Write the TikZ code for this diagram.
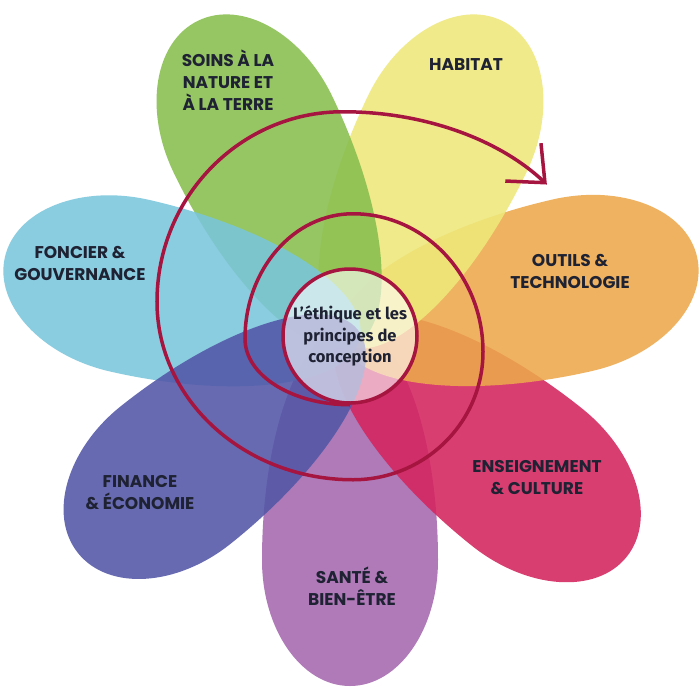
\documentclass[tikz,border=0pt]{standalone}
\usepackage{fontspec}
\setmainfont{Poppins}
\newfontfamily\centrefont{Fira Sans}
\usetikzlibrary{arrows.meta}

\definecolor{santepurple}{RGB}{164,104,174}
\definecolor{culturered}{RGB}{212,36,94}
\definecolor{outilsorange}{RGB}{236,168,76}
\definecolor{habitatyellow}{RGB}{238,232,122}
\definecolor{soinsgreen}{RGB}{136,190,78}
\definecolor{foncierblue}{RGB}{122,198,220}
\definecolor{financeblue}{RGB}{82,86,166}
\definecolor{spiralred}{RGB}{166,20,64}
\definecolor{textdark}{RGB}{30,34,51}

\begin{document}
\begin{tikzpicture}[
            x = 1pt, y = 1pt, % one unit is one pixel of the flower
            > = {Straight Barb[length=30pt, width=52pt]}, % open arrow head
            line join = round,
            spiral/.style = {draw = spiralred, line width = 3.5pt},
            petal/.style = {fill opacity = 0.88}
        ]

        \tikzstyle{petaltext}=[
            text = textdark,
            font = \fontsize{17}{22}\selectfont\bfseries,
            align = center
        ]

        \useasboundingbox[fill=white] (-350,-350) rectangle (350,336);

        % petals, bottom one first
        \fill[petal, santepurple, rotate=-90] (224,88) arc[start angle=90, end angle=-90, x radius=126pt, y radius=88pt] arc[start angle=-90, end angle=-270, x radius=234pt, y radius=88pt] -- cycle;
        \fill[petal, culturered, rotate=-38.57] (226,88) arc[start angle=90, end angle=-90, x radius=128pt, y radius=88pt] arc[start angle=-90, end angle=-270, x radius=236pt, y radius=88pt] -- cycle;
        \fill[petal, outilsorange, rotate=12.86] (228,88) arc[start angle=90, end angle=-90, x radius=128pt, y radius=88pt] arc[start angle=-90, end angle=-270, x radius=238pt, y radius=88pt] -- cycle;
        \fill[petal, habitatyellow, rotate=64.29] (224,88) arc[start angle=90, end angle=-90, x radius=126pt, y radius=88pt] arc[start angle=-90, end angle=-270, x radius=234pt, y radius=88pt] -- cycle;
        \fill[petal, soinsgreen, rotate=115.71] (224,88) arc[start angle=90, end angle=-90, x radius=126pt, y radius=88pt] arc[start angle=-90, end angle=-270, x radius=234pt, y radius=88pt] -- cycle;
        \fill[petal, foncierblue, rotate=167.14] (226,88) arc[start angle=90, end angle=-90, x radius=128pt, y radius=88pt] arc[start angle=-90, end angle=-270, x radius=236pt, y radius=88pt] -- cycle;
        \fill[petal, financeblue, rotate=218.57] (223,88) arc[start angle=90, end angle=-90, x radius=125pt, y radius=88pt] arc[start angle=-90, end angle=-270, x radius=233pt, y radius=88pt] -- cycle;

        \node[circle, draw = spiralred, line width = 3.5pt, fill = white, fill opacity = 0.6, text opacity = 1,
              minimum size = 134pt, inner sep = 0pt, align = center, text = textdark,
              font = \centrefont\bfseries\fontsize{16.5}{21.5}\selectfont] (ethique) at (0,0) {L’éthique et les\\principes de\\conception};

        % spiral going out from the centre, one quarter at a time
        \draw[spiral, ->] (ethique.south)
            arc[start angle=-90, end angle=-180, x radius=105pt, y radius=66pt]
            arc[start angle=180, end angle=90, x radius=108pt, y radius=125pt]
            arc[start angle=90, end angle=0, x radius=130pt, y radius=138pt]
            arc[start angle=0, end angle=-90, x radius=130pt, y radius=128pt]
            arc[start angle=-90, end angle=-180, x radius=196pt, y radius=178pt]
            arc[start angle=180, end angle=90, x radius=186pt, y radius=190pt]
            arc[start angle=90, end angle=37.5, x radius=257pt, y radius=186pt];

        \node[petaltext] (soins) at (-122,256) {SOINS À LA\\NATURE ET\\À LA TERRE};
        \node[petaltext] (habitat) at (116,271) {HABITAT};
        \node[petaltext] (outils) at (220,65) {OUTILS \&\\TECHNOLOGIE};
        \node[petaltext] (enseignement) at (187,-142) {ENSEIGNEMENT\\\& CULTURE};
        \node[petaltext] (sante) at (2,-250) {SANTÉ \&\\BIEN-ÊTRE};
        \node[petaltext] (finance) at (-210,-157) {FINANCE\\\& ÉCONOMIE};
        \node[petaltext] (foncier) at (-270,73) {FONCIER \&\\GOUVERNANCE};
    \end{tikzpicture}
\end{document}
